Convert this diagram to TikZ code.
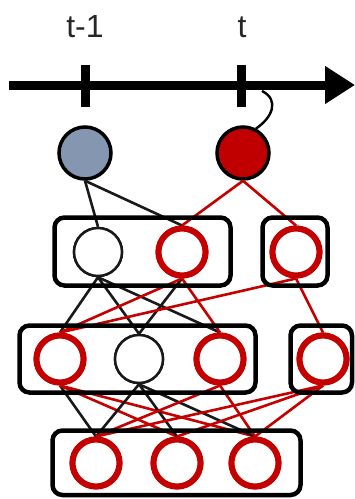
\documentclass[tikz,border=0pt]{standalone}
\usepackage{fontspec}
\setmainfont{Liberation Sans}
\usetikzlibrary{arrows.meta}
\definecolor{unitred}{RGB}{196,0,0}
\definecolor{slateblue}{RGB}{132,150,176}
\definecolor{statered}{RGB}{192,0,0}
\begin{document}
\begin{tikzpicture}[x=1pt,y=-1pt,
  label/.style={font=\fontsize{32}{38}\selectfont, text=black!85, inner sep=0pt},
  axis/.style={line width=9pt, -{Triangle[length=30pt,width=36pt]}},
  tick/.style={line width=9pt},
  state/.style={circle, draw=black, line width=3.5pt, minimum size=52pt, inner sep=0pt},
  unit/.style={circle, draw=black!90, line width=2.5pt, fill=white, minimum size=48pt, inner sep=0pt},
  redunit/.style={circle, draw=unitred, line width=6pt, fill=white, minimum size=47pt, inner sep=0pt},
  group/.style={draw=black, line width=4.5pt, rounded corners=10pt},
  blk/.style={draw=black!90, line width=2.6pt},
  rd/.style={draw=unitred, line width=2.6pt},
  hook/.style={draw=black, line width=2.4pt}
]
\useasboundingbox (0,0) rectangle (355,499);

% time axis
\node[label] (lprev) at (85,27) {t-1};
\node[label] (lnow) at (242,27) {t};
\coordinate (axstart) at (9,85);
\coordinate (axend) at (355,85);
\draw[axis] (axstart) -- (axend);
\coordinate (tk1a) at (85,65); \coordinate (tk1b) at (85,107);
\coordinate (tk2a) at (241,65); \coordinate (tk2b) at (241,107);
\draw[tick] (tk1a) -- (tk1b);
\draw[tick] (tk2a) -- (tk2b);

% state nodes
\node[state, fill=slateblue] (sprev) at (85,153) {};
\node[state, fill=statered] (snow) at (243,153) {};

% units
\node[unit] (w2) at (98,252) {};
\node[redunit] (r2b) at (182,252) {};
\node[redunit] (r2c) at (296,252) {};

\node[redunit] (r3a) at (60,359) {};
\node[unit] (w3) at (139,359) {};
\node[redunit] (r3c) at (220,359) {};
\node[redunit] (r3d) at (323,359) {};

\node[redunit] (r4a) at (96,463) {};
\node[redunit] (r4b) at (177,463) {};
\node[redunit] (r4c) at (255,463) {};

% connections
\begin{scope}
\draw[blk] (sprev.south) -- (w2.north);
\draw[blk] (sprev.south) -- (r2b.north);
\draw[rd] (snow.south) -- (r2b.north);
\draw[rd] (snow.south) -- (r2c.north);

\draw[blk] (w2.south) -- (r3a.north);
\draw[blk] (w2.south) -- (w3.north);
\draw[blk] (w2.south) -- (r3c.north);
\draw[blk] (r2b.south) -- (w3.north);
\draw[rd] (r2b.south) -- (r3a.north);
\draw[rd] (r2b.south) -- (r3c.north);
\draw[rd] (r2c.south) -- (r3a.north);
\draw[rd] (r2c.south) -- (r3d.north);

\draw[blk] (r3a.south) -- (r4a.north);
\draw[rd] (r3a.south) -- (r4b.north);
\draw[rd] (r3a.south) -- (r4c.north);
\draw[blk] (w3.south) -- (r4a.north);
\draw[blk] (w3.south) -- (r4b.north);
\draw[blk] (w3.south) -- (r4c.north);
\draw[rd] (r3c.south) -- (r4a.north);
\draw[rd] (r3c.south) -- (r4c.north);
\draw[rd] (r3d.south) -- (r4a.north);
\draw[rd] (r3d.south) -- (r4b.north);
\draw[rd] (r3d.south) -- (r4c.north);
\end{scope}

% redraw units over the connections
\node[unit] at (w2) {};
\node[redunit] at (r2b) {};
\node[redunit] at (r2c) {};
\node[redunit] at (r3a) {};
\node[unit] at (w3) {};
\node[redunit] at (r3c) {};
\node[redunit] at (r3d) {};
\node[redunit] at (r4a) {};
\node[redunit] at (r4b) {};
\node[redunit] at (r4c) {};

% layer groups
\draw[group] (54.5,217.5) rectangle (230.5,285.5);
\draw[group] (262.5,217.5) rectangle (327.5,285.5);
\draw[group] (19.5,325.5) rectangle (255.5,392.5);
\draw[group] (290.5,325.5) rectangle (352,392.5);
\draw[group] (52.5,430.5) rectangle (300.5,495);

% link from the current time step to its state
\coordinate (hookstart) at (262,91);
\draw[hook] (hookstart) .. controls (280,100) and (272,118) .. (snow.62);
\end{tikzpicture}
\end{document}
